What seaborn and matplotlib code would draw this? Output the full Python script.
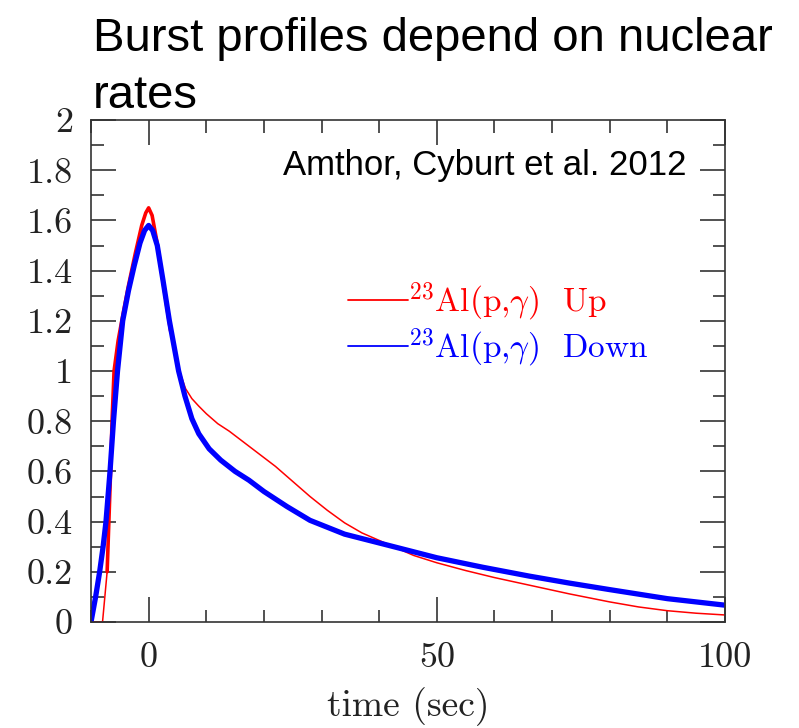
import numpy as np
import pandas as pd
import matplotlib
matplotlib.use("Agg")
import matplotlib.pyplot as plt
import seaborn as sns
from matplotlib.lines import Line2D
from matplotlib.ticker import FixedLocator, MultipleLocator

# Burst light curves (normalised flux vs time) for the two 23Al(p,g) rate variations
time_up = [-10, -8.6, -8.0, -7.6, -7.2, -6.9, -6.6, -6.35, -6.0, -5.3, -4.5, -3.5,
           -2.3, -1.2, -0.5, 0.0, 0.6, 1.4, 2.6, 3.8, 5.2, 6.4, 7.5, 8.7, 10,
           12, 14, 16, 18, 20, 22, 25, 28, 31, 34, 37, 41, 46, 50, 55, 60,
           66, 73, 80, 85, 90, 95, 100]
flux_up = [0.0, 0.0, 0.0, 0.10, 0.20, 0.40, 0.60, 0.80, 1.00, 1.12, 1.22, 1.34,
           1.47, 1.58, 1.63, 1.65, 1.62, 1.52, 1.34, 1.16, 1.01, 0.93, 0.89, 0.86, 0.83,
           0.79, 0.76, 0.725, 0.69, 0.655, 0.62, 0.56, 0.50, 0.445, 0.395, 0.355, 0.315, 0.265, 0.236, 0.205, 0.177,
           0.147, 0.112, 0.080, 0.060, 0.045, 0.035, 0.028]

time_down = [-10, -9.6, -9.2, -8.5, -7.9, -7.4, -6.7, -6.1, -5.4, -4.5, -3.5, -2.5,
             -1.5, -0.7, 0.0, 0.7, 1.5, 2.5, 3.6, 4.4, 5.2, 6.3, 7.5, 8.7, 10.5,
             12.5, 15, 17.4, 20, 24, 28, 34, 41, 50, 58, 66, 73, 80, 90, 100]
flux_down = [0.0, 0.05, 0.10, 0.20, 0.30, 0.40, 0.60, 0.80, 1.00, 1.20, 1.32, 1.42,
             1.51, 1.56, 1.58, 1.56, 1.50, 1.36, 1.20, 1.10, 1.00, 0.90, 0.81, 0.75, 0.69,
             0.645, 0.60, 0.565, 0.52, 0.46, 0.405, 0.35, 0.309, 0.256, 0.218, 0.183, 0.155, 0.129, 0.093, 0.067]

series_labels = [r"$^{23}$Al(p,$\gamma$)  Up", r"$^{23}$Al(p,$\gamma$)  Down"]
series_colors = ["#ff0000", "#0000ff"]

x_major = [0, 50, 100]
x_tick_labels = ["0", "50", "100"]
y_major = [0, 0.2, 0.4, 0.6, 0.8, 1.0, 1.2, 1.4, 1.6, 1.8, 2.0]
y_tick_labels = ["0", "0.2", "0.4", "0.6", "0.8", "1", "1.2", "1.4", "1.6", "1.8", "2"]

title_lines = ["Burst profiles depend on nuclear", "rates"]
credit = "Amthor, Cyburt et al. 2012"
x_label = "time (sec)"

sns.set_theme(style="ticks")
plt.rcParams["mathtext.fontset"] = "cm"
plt.rcParams["axes.formatter.use_mathtext"] = True

up = pd.DataFrame({"time": time_up, "flux": flux_up})
down = pd.DataFrame({"time": time_down, "flux": flux_down})

fig = plt.figure(figsize=(7.99, 7.28), dpi=100)
ax = fig.add_axes([91 / 799, 1 - 622 / 728, (725 - 91) / 799, (622 - 120) / 728])

line_kw = dict(x="time", y="flux", sort=False, estimator=None, ax=ax, legend=False)
sns.lineplot(data=up, color=series_colors[0], lw=1.1, **line_kw)
# the bundle of "Up" runs spreads out around the peak
peak_up = up[(up.time >= -7.2) & (up.time <= 3.8)]
sns.lineplot(data=peak_up, color=series_colors[0], lw=2.6, **line_kw)
sns.lineplot(data=down, color=series_colors[1], lw=3.8, **line_kw)

ax.set_xlim(-10, 100)
ax.set_ylim(0, 2)

frame = "#333333"
for sp in ax.spines.values():
    sp.set_color(frame)
    sp.set_linewidth(1.2)

ax.xaxis.set_major_locator(FixedLocator(x_major))
ax.xaxis.set_minor_locator(MultipleLocator(10))
ax.yaxis.set_major_locator(FixedLocator(y_major))
ax.yaxis.set_minor_locator(MultipleLocator(0.1))
ax.set_xticklabels(x_tick_labels, fontfamily="cmr10", fontsize=26, color="#222222")
ax.set_yticklabels(y_tick_labels, fontfamily="cmr10", fontsize=26, color="#222222")
ax.tick_params(which="both", direction="in", top=True, right=True, color=frame, width=1.2)
ax.tick_params(which="major", length=18)
ax.tick_params(which="minor", length=9)
ax.tick_params(axis="y", which="major", pad=13)
ax.tick_params(axis="x", which="major", pad=15)

ax.set_xlabel(x_label, fontfamily="cmr10", fontsize=27, color="#222222")
ax.xaxis.set_label_coords(0.5, (622 - 716) / 502)
ax.xaxis.label.set_verticalalignment("baseline")
ax.set_ylabel("")

handles = [Line2D([], [], color=c, lw=1.3) for c in series_colors]
ax.legend(handles, series_labels, loc="upper left", bbox_to_anchor=(0.405, 0.68),
          frameon=False, borderpad=0, borderaxespad=0, handlelength=1.8,
          handletextpad=0.0, labelspacing=0.1, labelcolor=series_colors,
          prop={"family": "cmr10", "size": 24})

fig.text(93 / 799, 1 - 51 / 728, title_lines[0], fontfamily="Liberation Sans",
         fontsize=34, va="baseline", ha="left", color="black")
fig.text(93 / 799, 1 - 108 / 728, title_lines[1], fontfamily="Liberation Sans",
         fontsize=34, va="baseline", ha="left", color="black")
fig.text(283 / 799, 1 - 175 / 728, credit, fontfamily="Liberation Sans",
         fontsize=25, va="baseline", ha="left", color="black")

fig.savefig("out.png", dpi=100, facecolor="white")
